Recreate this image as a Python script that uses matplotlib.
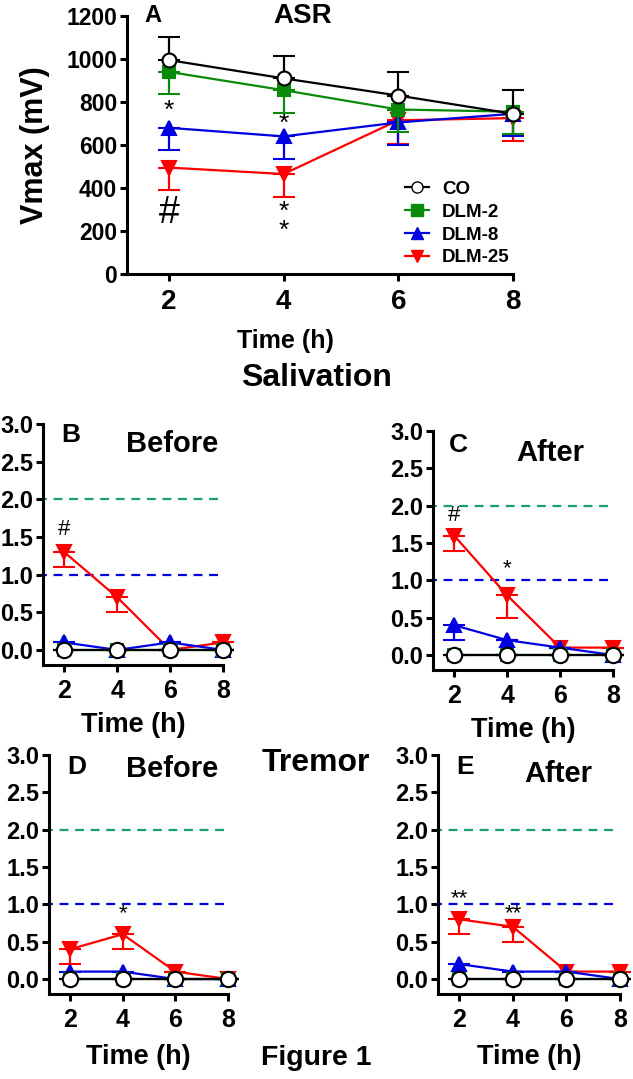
import matplotlib
matplotlib.use('Agg')
import matplotlib.pyplot as plt
from matplotlib.lines import Line2D

plt.rcParams['font.family'] = ['Liberation Sans', 'DejaVu Sans']
plt.rcParams['font.weight'] = 'bold'

W, H = 633, 1079

time = [2, 4, 6, 8]
groups = ['CO', 'DLM-2', 'DLM-8', 'DLM-25']

# panel A - ASR Vmax (mV), error shown one side
asr_co = [995, 910, 830, 745]
asr_co_err = [105, 105, 110, 110]
asr_d2 = [940, 855, 765, 755]
asr_d2_err = [105, 105, 105, 105]
asr_d8 = [680, 640, 705, 745]
asr_d8_err = [103, 105, 105, 105]
asr_d25 = [495, 465, 715, 725]
asr_d25_err = [105, 108, 110, 105]

# salivation scores
sal_b_co = [0, 0, 0, 0]
sal_b_d2 = [0, 0, 0, 0]
sal_b_d8 = [0.1, 0.0, 0.1, 0.0]
sal_b_d25 = [1.3, 0.7, 0.0, 0.1]
sal_b_d25_err = [0.2, 0.2, 0, 0]
sal_a_co = [0, 0, 0, 0]
sal_a_d2 = [0, 0, 0, 0]
sal_a_d8 = [0.4, 0.2, 0.1, 0.0]
sal_a_d8_err = [0.2, 0, 0, 0]
sal_a_d25 = [1.6, 0.8, 0.1, 0.1]
sal_a_d25_err = [0.2, 0.3, 0, 0]

# tremor scores
tre_b_co = [0, 0, 0, 0]
tre_b_d2 = [0, 0, 0, 0]
tre_b_d8 = [0.1, 0.1, 0.0, 0.0]
tre_b_d25 = [0.4, 0.6, 0.1, 0.0]
tre_b_d25_err = [0.2, 0.2, 0, 0]
tre_a_co = [0, 0, 0, 0]
tre_a_d2 = [0, 0, 0, 0]
tre_a_d8 = [0.2, 0.1, 0.1, 0.0]
tre_a_d25 = [0.8, 0.7, 0.1, 0.1]
tre_a_d25_err = [0.2, 0.2, 0, 0]

zero4 = [0, 0, 0, 0]
RED = '#ff0000'
BLUE = '#0000e0'
GREEN = '#0a8a0a'
DGREEN = '#1a9e6a'


def px_axes(l, t, r, b):
    return [l / W, 1 - b / H, (r - l) / W, (b - t) / H]


def style(ax, lw=2.2):
    for s in ['top', 'right']:
        ax.spines[s].set_visible(False)
    for s in ['left', 'bottom']:
        ax.spines[s].set_linewidth(lw)
    ax.tick_params(width=lw, length=5, direction='out')


def series(ax, y, err, color, marker, ms, up=False, zo=3, mfc=None):
    lower = zero4 if up else err
    upper = err if up else zero4
    ax.errorbar(time, y, yerr=[lower, upper], color=color, marker=marker,
                ms=ms, mfc=mfc if mfc else color, mec=color, mew=1.5,
                lw=1.6, elinewidth=1.6, capsize=8, capthick=1.6,
                clip_on=False, zorder=zo)


fig = plt.figure(figsize=(W / 100, H / 100), dpi=100)

# ---- panel A
ax = fig.add_axes(px_axes(127, 16, 513, 274))
style(ax)
series(ax, asr_d25, asr_d25_err, RED, 'v', 10, zo=3)
series(ax, asr_d8, asr_d8_err, BLUE, '^', 10, zo=4)
series(ax, asr_d2, asr_d2_err, GREEN, 's', 9, zo=5)
series(ax, asr_co, asr_co_err, 'black', 'o', 10, up=True, zo=6, mfc='white')
ax.set_xlim(1.27, 8)
ax.set_ylim(0, 1200)
ax.set_xticks(time)
ax.set_yticks(range(0, 1201, 200))
ax.tick_params(axis='y', labelsize=16.5, pad=2)
ax.tick_params(axis='x', labelsize=20, pad=6)
ax.text(2, 757, '*', fontsize=19, fontweight='normal', ha='center', va='center')
ax.text(2, 283, '#', fontsize=27, fontweight='normal', ha='center', va='center')
ax.text(4, 700, '*', fontsize=19, fontweight='normal', ha='center', va='center')
ax.text(4, 245, '*\n*', fontsize=19, fontweight='normal', ha='center', va='center',
        linespacing=0.7)
ax.text(0.045, 1.0, 'A', transform=ax.transAxes, fontsize=17, va='center')
ax.text(0.456, 1.0, 'ASR', transform=ax.transAxes, fontsize=20, ha='center', va='center')
leg_items = [Line2D([], [], color='black', marker='o', mfc='white', ms=8, lw=1.6),
             Line2D([], [], color=GREEN, marker='s', ms=8, lw=1.6),
             Line2D([], [], color=BLUE, marker='^', ms=8, lw=1.6),
             Line2D([], [], color=RED, marker='v', ms=8, lw=1.6)]
ax.legend(leg_items, groups, loc='upper left', bbox_to_anchor=(0.7, 0.39),
          frameon=False, fontsize=13.5, handlelength=1.3, handletextpad=0.7,
          labelspacing=0.3, borderaxespad=0)
fig.text(285 / W, 1 - 341 / H, 'Time (h)', fontsize=18, ha='center', va='center')
fig.text(35 / W, 1 - 145 / H, 'Vmax (mV)', fontsize=22, ha='center', va='center',
         rotation=90)


def small_panel(rect, co, d2, d8, d8_err, d25, d25_err, letter, title, let_pos, tit_pos,
                notes, xlab_y):
    ax = fig.add_axes(px_axes(*rect))
    style(ax)
    ax.plot([1.0, 7.9], [2, 2], ls=(0, (4, 3)), color=DGREEN, lw=1.6, zorder=1)
    ax.plot([1.0, 7.9], [1, 1], ls=(0, (4, 3)), color=BLUE, lw=1.6, zorder=1)
    series(ax, d25, d25_err, RED, 'v', 10.5, zo=3)
    series(ax, d8, d8_err, BLUE, '^', 9.5, zo=4)
    series(ax, d2, zero4, GREEN, 's', 8.5, zo=5)
    series(ax, co, zero4, 'black', 'o', 11, up=True, zo=6, mfc='white')
    ax.set_xlim(1.2, 8)
    ax.set_ylim(-0.2, 3.0)
    ax.set_xticks(time)
    ax.set_yticks([0, 0.5, 1.0, 1.5, 2.0, 2.5, 3.0])
    ax.set_yticklabels(['0.0', '0.5', '1.0', '1.5', '2.0', '2.5', '3.0'])
    ax.tick_params(axis='y', labelsize=17, pad=2)
    ax.tick_params(axis='x', labelsize=18, pad=5)
    ax.text(let_pos[0], let_pos[1], letter, transform=ax.transAxes, fontsize=19,
            va='center')
    ax.text(tit_pos[0], tit_pos[1], title, transform=ax.transAxes, fontsize=21,
            ha='center', va='center')
    for x, y, s in notes:
        ax.text(x, y, s, fontsize=16, fontweight='normal', ha='center', va='center')
    cx = (rect[0] + rect[2]) / 2
    fig.text(cx / W, 1 - xlab_y / H, 'Time (h)', fontsize=19.5, ha='center', va='center')
    return ax


small_panel((43, 424, 223, 665), sal_b_co, sal_b_d2, sal_b_d8, zero4,
            sal_b_d25, sal_b_d25_err, 'B', 'Before', (0.1, 0.955), (0.72, 0.915),
            [(2, 1.6, '#')], 725)
small_panel((433, 431, 613, 670), sal_a_co, sal_a_d2, sal_a_d8, sal_a_d8_err,
            sal_a_d25, sal_a_d25_err, 'C', 'After', (0.09, 0.94), (0.65, 0.91),
            [(2, 1.87, '#'), (4, 1.15, '*')], 730)
small_panel((49, 755, 228, 994), tre_b_co, tre_b_d2, tre_b_d8, zero4,
            tre_b_d25, tre_b_d25_err, 'D', 'Before', (0.1, 0.95), (0.69, 0.94),
            [(4, 0.87, '*')], 1057)
small_panel((438, 755, 620, 994), tre_a_co, tre_a_d2, tre_a_d8, zero4,
            tre_a_d25, tre_a_d25_err, 'E', 'After', (0.1, 0.95), (0.66, 0.92),
            [(2, 1.07, '**'), (4, 0.87, '**')], 1057)

fig.text(316 / W, 1 - 378 / H, 'Salivation', fontsize=23, ha='center', va='center')
fig.text(316 / W, 1 - 763 / H, 'Tremor', fontsize=23, ha='center', va='center')
fig.text(316 / W, 1 - 1058 / H, 'Figure 1', fontsize=20.5, ha='center', va='center')

fig.savefig('out.png', dpi=100)
